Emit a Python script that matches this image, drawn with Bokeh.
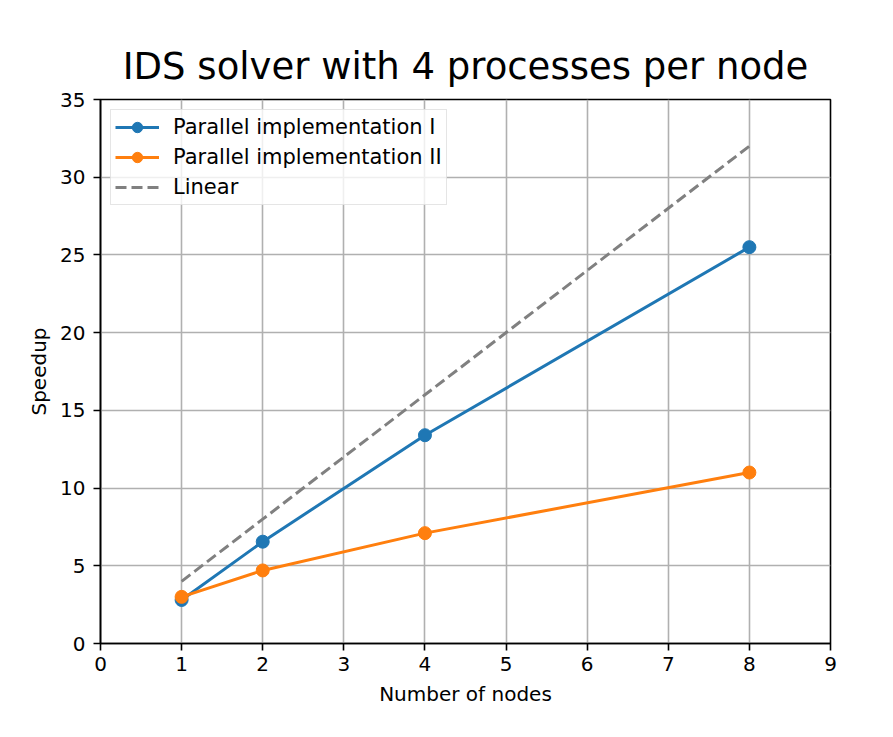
from bokeh.plotting import figure
from bokeh.models import Range1d, FixedTicker
from bokeh.embed import file_html
from bokeh.resources import INLINE

# data
nodes = [1, 2, 4, 8]
speedup_impl1 = [2.8, 6.55, 13.4, 25.5]
speedup_impl2 = [3.0, 4.7, 7.1, 11.0]
speedup_linear = [4, 8, 16, 32]

x_ticks = [0, 1, 2, 3, 4, 5, 6, 7, 8, 9]
y_ticks = [0, 5, 10, 15, 20, 25, 30, 35]

FONT = "DejaVu Sans"
BLUE = "#1f77b4"
ORANGE = "#ff7f0e"

p = figure(
    width=885, height=729,
    title="IDS solver with 4 processes per node",
    x_range=Range1d(0, 9), y_range=Range1d(0, 35),
    x_axis_label="Number of nodes", y_axis_label="Speedup",
    output_backend="svg", toolbar_location=None,
    min_border_left=100, min_border_right=55,
    min_border_top=99, min_border_bottom=86,
)

p.title.text_font = FONT
p.title.text_font_size = "37px"
p.title.text_font_style = "normal"
p.title.text_color = "black"
p.title.align = "center"
p.title.standoff = 24

p.outline_line_color = "black"
p.outline_line_width = 1.6
p.outline_line_alpha = 1.0

for ax in (p.xaxis, p.yaxis):
    ax.axis_line_width = 1.6
    ax.major_tick_line_width = 1.6
    ax.major_tick_out = 7
    ax.major_tick_in = 0
    ax.minor_tick_line_color = None
    ax.major_label_text_font = FONT
    ax.major_label_text_font_size = "20px"
    ax.major_label_text_color = "black"
    ax.axis_label_text_font = FONT
    ax.axis_label_text_font_size = "20px"
    ax.axis_label_text_font_style = "normal"
    ax.axis_label_text_color = "black"

p.xaxis.ticker = FixedTicker(ticks=x_ticks)
p.yaxis.ticker = FixedTicker(ticks=y_ticks)
p.xaxis.major_label_standoff = 6
p.yaxis.major_label_standoff = 8
p.xaxis.axis_label_standoff = 8
p.yaxis.axis_label_standoff = 6

p.grid.grid_line_color = "#b0b0b0"
p.grid.grid_line_width = 1.6

p.line(nodes, speedup_impl1, color=BLUE, line_width=3, legend_label="Parallel implementation I")
p.scatter(nodes, speedup_impl1, color=BLUE, size=13, legend_label="Parallel implementation I")
p.line(nodes, speedup_impl2, color=ORANGE, line_width=3, legend_label="Parallel implementation II")
p.scatter(nodes, speedup_impl2, color=ORANGE, size=13, legend_label="Parallel implementation II")
p.line(nodes, speedup_linear, color="gray", line_width=3, line_dash="11 5", legend_label="Linear")

p.legend.location = "top_left"
p.legend.margin = 10
p.legend.padding = 4
p.legend.spacing = 4
p.legend.label_height = 26
p.legend.glyph_height = 26
p.legend.glyph_width = 44
p.legend.label_standoff = 14
p.legend.label_text_font = FONT
p.legend.label_text_font_size = "21px"
p.legend.label_text_color = "black"
p.legend.border_line_color = "#cccccc"
p.legend.border_line_width = 1.6
p.legend.background_fill_alpha = 0.8

open("out.html", "w").write(file_html(p, INLINE))
